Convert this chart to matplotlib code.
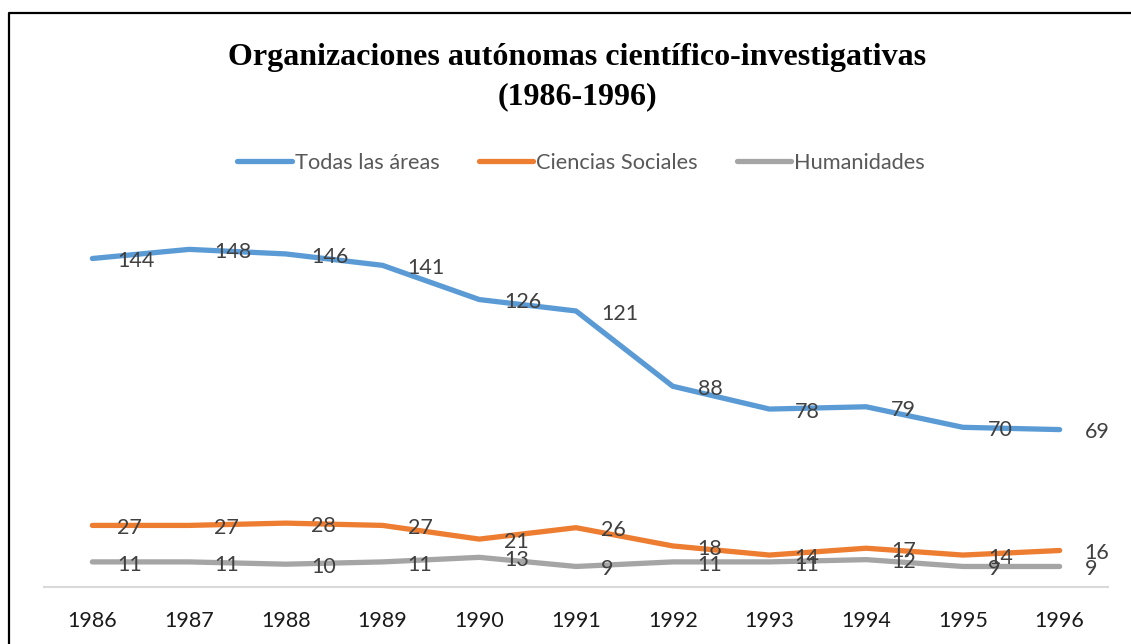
import matplotlib.pyplot as plt
from matplotlib.lines import Line2D

years = ['1986', '1987', '1988', '1989', '1990', '1991', '1992', '1993', '1994', '1995', '1996']
todas = [144, 148, 146, 141, 126, 121, 88, 78, 79, 70, 69]
sociales = [27, 27, 28, 27, 21, 26, 18, 14, 17, 14, 16]
humanidades = [11, 11, 10, 11, 13, 9, 11, 11, 12, 9, 9]

series_names = ['Todas las áreas', 'Ciencias Sociales', 'Humanidades']
colors = ['#5B9BD5', '#ED7D31', '#A5A5A5']

W, H = 1131, 644
fig = plt.figure(figsize=(W / 100, H / 100), dpi=100)
fig.patch.set_facecolor('white')

# plot area in pixel terms
left, right = 44, 1108
bottom, top = 587, 222
ax = fig.add_axes([left / W, (H - bottom) / H, (right - left) / W, (bottom - top) / H])

x = list(range(len(years)))
for vals, name, color in zip([todas, sociales, humanidades], series_names, colors):
	ax.plot(x, vals, color=color, lw=3.8, solid_capstyle='round', solid_joinstyle='round', label=name)
	for xi, v in zip(x, vals):
		ax.annotate(str(v), (xi, v), xytext=(18, -2), textcoords='offset points',
			ha='left', va='center', fontsize=15.5, color='#404040', family='Lato')

ax.set_xlim(-0.5, len(years) - 0.5)
ax.set_ylim(0, 160)
ax.set_xticks(x)
ax.set_xticklabels(years, fontsize=15.5, family='Lato', color='#1a1a1a')
ax.tick_params(axis='x', length=0, pad=17)
ax.set_yticks([])
for side in ['top', 'right', 'left']:
	ax.spines[side].set_visible(False)
ax.spines['bottom'].set_color('#D9D9D9')
ax.spines['bottom'].set_linewidth(1.5)

fig.text(577 / W, 1 - 58 / H, 'Organizaciones autónomas científico-investigativas',
	ha='center', va='center', fontsize=23, fontweight='bold', family='Liberation Serif')
fig.text(577 / W, 1 - 97 / H, '(1986-1996)',
	ha='center', va='center', fontsize=23, fontweight='bold', family='Liberation Serif')

leg = fig.legend(loc='center', bbox_to_anchor=(581 / W, 1 - 163 / H), ncol=3, frameon=False,
	prop={'family': 'Lato', 'size': 15.7}, handlelength=2.5, columnspacing=1.8, handletextpad=0.12)
for t in leg.get_texts():
	t.set_color('#595959')
for h in leg.get_lines():
	h.set_linewidth(3.8)

# outer frame (left and top edges visible)
fig.add_artist(Line2D([8.5 / W, 8.5 / W, 1.0], [0.0, 1 - 12.5 / H, 1 - 12.5 / H],
	transform=fig.transFigure, color='black', lw=1.6))

fig.savefig('out.png', dpi=100)
